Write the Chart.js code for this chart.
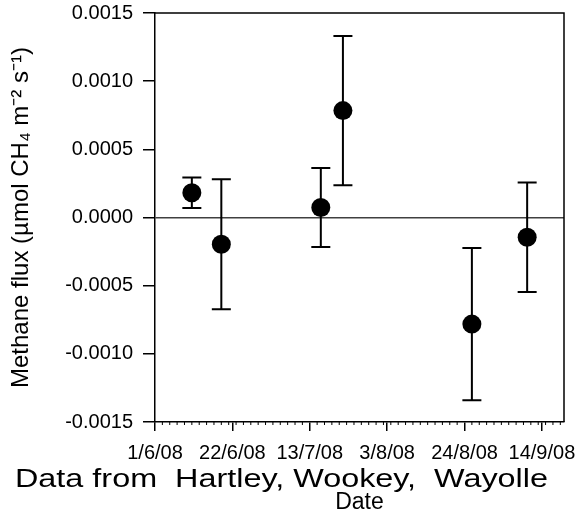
<!DOCTYPE html>
<html>
<head>
<meta charset="utf-8">
<script src="https://cdn.jsdelivr.net/npm/chart.js@4/dist/chart.umd.min.js"></script>
<style>
  html, body { margin: 0; padding: 0; background: #fff; }
  canvas { display: block; }
</style>
</head>
<body>
<canvas id="fluxChart" width="575" height="511"></canvas>
<script>
// sampling dates (day/month 2008)
const sampleDates = ["2008-06-11", "2008-06-19", "2008-07-16", "2008-07-22", "2008-08-26", "2008-09-10"];
// mean methane flux and error bar half-width (umol CH4 m-2 s-1)
const fluxMean = [0.000182, -0.000196, 0.0000735, 0.000784, -0.000782, -0.000145];
const fluxError = [0.000112, 0.000477, 0.000289, 0.000548, 0.000559, 0.000402];
const xTickLabels = ["1/6/08", "22/6/08", "13/7/08", "3/8/08", "24/8/08", "14/9/08"];
const startDate = "2008-06-01";

const FONT = "'Liberation Sans', Arial, sans-serif";

function dayNumber(s) {
  return Math.round((Date.parse(s) - Date.parse(startDate)) / 86400000);
}

const points = sampleDates.map(function (d, i) {
  return { x: dayNumber(d), y: fluxMean[i] };
});

// fixed axis box sizes so the plot area lands where the original has it
function fixBox(size) {
  return function (s) {
    if (s.isHorizontal()) s.height = size; else s.width = size;
    s.paddingTop = 0;
    s.paddingBottom = 0;
    s.paddingLeft = 0;
    s.paddingRight = 0;
  };
}

// error bars, minor ticks, frame and the credit line
const extras = {
  id: "extras",
  beforeDatasetsDraw: function (chart) {
    const ctx = chart.ctx;
    const xs = chart.scales.x;
    const ys = chart.scales.y;
    ctx.save();
    ctx.strokeStyle = "#000";
    ctx.lineWidth = 2;
    points.forEach(function (p, i) {
      const px = xs.getPixelForValue(p.x);
      const top = ys.getPixelForValue(fluxMean[i] + fluxError[i]);
      const bot = ys.getPixelForValue(fluxMean[i] - fluxError[i]);
      ctx.beginPath();
      ctx.moveTo(px, top);
      ctx.lineTo(px, bot);
      ctx.moveTo(px - 9.5, top);
      ctx.lineTo(px + 9.5, top);
      ctx.moveTo(px - 9.5, bot);
      ctx.lineTo(px + 9.5, bot);
      ctx.stroke();
    });
    ctx.restore();
  },
  afterDraw: function (chart) {
    const ctx = chart.ctx;
    const a = chart.chartArea;
    const xs = chart.scales.x;
    ctx.save();
    // frame top and right
    ctx.strokeStyle = "#000";
    ctx.lineWidth = 1.5;
    ctx.beginPath();
    ctx.moveTo(a.left, a.top);
    ctx.lineTo(a.right, a.top);
    ctx.lineTo(a.right, a.bottom);
    ctx.stroke();
    // minor ticks every 2 days
    ctx.lineWidth = 1;
    ctx.beginPath();
    for (let d = 2; d < xs.max; d += 2) {
      if (d % 21 === 0) continue;
      const px = xs.getPixelForValue(d);
      ctx.moveTo(px, a.bottom);
      ctx.lineTo(px, a.bottom + 3);
    }
    ctx.stroke();
    // credit line
    const txt = "Data from  Hartley, Wookey,  Wayolle";
    ctx.font = "26px " + FONT;
    ctx.fillStyle = "#000";
    ctx.textBaseline = "alphabetic";
    const w = ctx.measureText(txt).width;
    ctx.translate(15, 487);
    ctx.scale(533 / w, 1);
    ctx.fillText(txt, 0, 0);
    ctx.restore();
  }
};

new Chart(document.getElementById("fluxChart"), {
  type: "scatter",
  data: {
    datasets: [
      {
        data: points,
        pointRadius: 9.5,
        pointHoverRadius: 9.5,
        backgroundColor: "#000",
        borderWidth: 0
      }
    ]
  },
  plugins: [extras],
  options: {
    responsive: false,
    animation: false,
    layout: { padding: { top: 13, right: 11, left: 0, bottom: 0 } },
    plugins: { legend: { display: false }, tooltip: { enabled: false } },
    scales: {
      x: {
        type: "linear",
        min: 0,
        max: 111,
        afterFit: fixBox(89),
        border: { color: "#000", width: 1.5 },
        grid: { drawOnChartArea: false, tickLength: 9, tickColor: "#000", lineWidth: 1.5 },
        ticks: {
          stepSize: 21,
          includeBounds: false,
          maxRotation: 0,
          autoSkip: false,
          padding: 10,
          color: "#000",
          font: { family: FONT, size: 20 },
          callback: function (v) { return xTickLabels[Math.round(v / 21)]; }
        },
        title: {
          display: true,
          text: "Date",
          color: "#000",
          font: { family: FONT, size: 23, lineHeight: 1 },
          padding: { top: 0, bottom: -3 }
        }
      },
      y: {
        min: -0.0015,
        max: 0.0015,
        afterFit: fixBox(155),
        border: { color: "#000", width: 1.5 },
        grid: {
          drawOnChartArea: true,
          tickLength: 12,
          tickColor: "#000",
          lineWidth: 1.5,
          color: function (c) {
            return c.tick && Math.abs(c.tick.value) < 1e-10 ? "#404040" : "rgba(0,0,0,0)";
          }
        },
        ticks: {
          stepSize: 0.0005,
          padding: 10,
          color: "#000",
          font: { family: FONT, size: 20 },
          callback: function (v) {
            return Math.abs(v) < 1e-10 ? "0.0000" : v.toFixed(4);
          }
        },
        title: {
          display: true,
          text: "Methane flux (\u00b5mol CH\u2084 m\u207b\u00b2 s\u207b\u00b9)",
          color: "#000",
          font: { family: FONT, size: 24, lineHeight: 1 },
          padding: { top: 9, bottom: 0 }
        }
      }
    }
  }
});
</script>
</body>
</html>
